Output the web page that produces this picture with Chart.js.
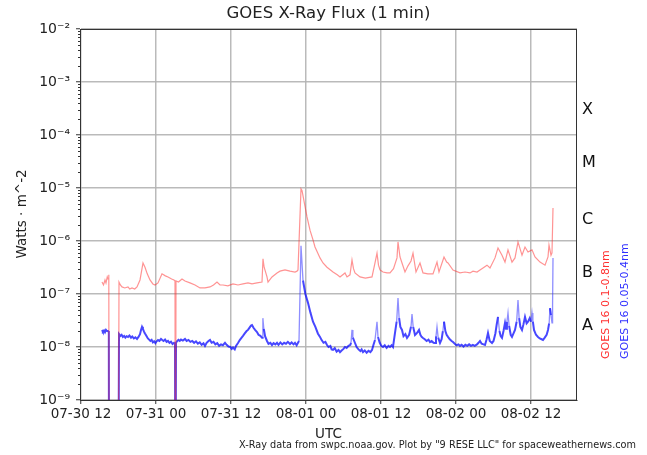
<!DOCTYPE html>
<html>
<head>
<meta charset="utf-8">
<script src="https://cdn.jsdelivr.net/npm/chart.js@4.4.1/dist/chart.umd.min.js"></script>
<style>
  html, body { margin: 0; padding: 0; background: #fff; }
</style>
</head>
<body>
<canvas id="xray" width="647" height="455"></canvas>
<script>
// GOES X-Ray Flux (1 min)
// x = hours since 07-30 00:00 UTC, y = W/m^2
// GAP marks missing samples (drawn as drops below the axis)
const GAP = 1e-12;

const redHours = [15.36,15.6,15.84,16.0,16.2,16.32,16.45,16.5,17.95,18.08,18.3,18.56,19.0,19.52,19.8,20.16,20.6,20.96,21.44,21.92,22.24,22.6,23.04,23.5,23.84,24.32,24.96,25.5,25.92,26.5,26.88,27.04,27.1,27.2,27.6,28.16,28.64,29.44,30.24,31.04,31.84,32.64,33.2,33.76,34.24,34.72,35.5,36.32,37.12,37.92,38.72,39.36,40.16,40.96,41.12,41.3,41.76,41.92,42.56,43.36,43.84,44.64,45.44,46.24,46.56,46.72,47.2,47.36,47.84,48.16,48.64,49.12,49.44,50.24,50.72,51.36,52.32,53.0,53.44,54.24,54.56,55.04,55.36,55.6,55.84,56.64,57.5,58.56,59.04,59.36,59.6,59.84,60.32,60.96,61.44,62.0,62.56,62.72,63.04,63.36,63.84,64.32,64.8,65.12,65.6,66.24,66.72,67.5,68.32,68.96,69.28,70.08,70.5,70.72,71.52,72.64,73.44,74.24,74.72,75.36,75.84,76.32,76.96,77.44,78.24,78.72,79.36,79.84,80.32,80.96,81.44,81.92,82.56,83.04,83.52,84.16,84.64,85.44,86.24,86.72,86.88,87.2,87.36,87.52];
const redFlux = [1.68e-7,1.48e-7,1.84e-7,1.62e-7,2.1e-7,1.92e-7,2.3e-7,GAP,GAP,1.68e-7,1.48e-7,1.36e-7,1.30e-7,1.36e-7,1.24e-7,1.30e-7,1.24e-7,1.36e-7,1.84e-7,3.85e-7,3.2e-7,2.4e-7,1.84e-7,1.55e-7,1.48e-7,1.62e-7,2.4e-7,2.2e-7,2.1e-7,1.92e-7,1.84e-7,1.76e-7,GAP,1.76e-7,1.68e-7,1.92e-7,1.76e-7,1.62e-7,1.48e-7,1.30e-7,1.30e-7,1.36e-7,1.48e-7,1.68e-7,1.48e-7,1.48e-7,1.42e-7,1.55e-7,1.48e-7,1.55e-7,1.62e-7,1.55e-7,1.62e-7,1.68e-7,4.6e-7,3.2e-7,2.1e-7,1.68e-7,2.1e-7,2.5e-7,2.7e-7,2.84e-7,2.7e-7,2.6e-7,2.7e-7,2.84e-7,9.6e-6,9.0e-6,4.5e-6,2.84e-6,1.6e-6,1.05e-6,7.7e-7,4.8e-7,3.85e-7,3.2e-7,2.6e-7,2.3e-7,2.1e-7,2.5e-7,2.1e-7,2.3e-7,4.4e-7,3.0e-7,2.5e-7,2.1e-7,2.0e-7,2.1e-7,3.85e-7,5.9e-7,3.5e-7,2.84e-7,2.6e-7,2.5e-7,2.5e-7,3.0e-7,4.8e-7,9.6e-7,5.0e-7,3.85e-7,2.6e-7,3.4e-7,4.2e-7,5.9e-7,2.6e-7,3.85e-7,2.5e-7,2.4e-7,2.4e-7,4.0e-7,2.6e-7,5.0e-7,4.0e-7,3.85e-7,2.84e-7,2.5e-7,2.6e-7,2.5e-7,2.7e-7,2.6e-7,2.84e-7,3.1e-7,3.5e-7,3.1e-7,4.8e-7,7.4e-7,5.4e-7,4.0e-7,6.8e-7,4.0e-7,4.8e-7,9.6e-7,5.4e-7,7.7e-7,6.2e-7,6.8e-7,5.0e-7,4.0e-7,3.5e-7,5.0e-7,8.4e-7,5.4e-7,6.0e-7,4.2e-6];

const blueHours = [
  15.36,15.5,15.68,15.84,16.0,16.16,16.32,16.45,16.5,17.95,
  18.08,18.3,18.5,18.7,18.9,19.1,19.3,19.52,19.75,20.0,
  20.2,20.45,20.7,20.96,21.2,21.44,21.6,21.76,21.9,22.08,
  22.24,22.5,22.7,22.9,23.1,23.3,23.5,23.7,23.9,24.1,
  24.32,24.55,24.8,25.0,25.2,25.45,25.7,25.92,26.15,26.4,
  26.65,26.88,27.04,27.1,27.2,27.4,27.6,27.8,28.0,28.3,
  28.64,28.9,29.2,29.5,29.8,30.1,30.4,30.7,31.0,31.3,
  31.6,31.84,32.1,32.4,32.64,32.9,33.2,33.5,33.8,34.1,
  34.4,34.7,35.04,35.3,35.6,35.9,36.1,36.32,36.6,36.8,
  37.12,37.4,37.7,37.92,38.2,38.5,38.72,39.0,39.2,39.36,
  39.6,39.85,40.16,40.4,40.7,40.96,41.05,41.1,41.25,41.45,
  41.76,42.0,42.3,42.56,42.8,43.1,43.36,43.6,43.9,44.2,
  44.5,44.8,45.1,45.44,45.7,46.0,46.24,46.5,46.72,46.88,
  47.2,47.52,47.9,48.32,48.7,49.12,49.5,49.9,50.24,50.5,
  50.8,51.1,51.36,51.6,51.9,52.1,52.32,52.6,52.9,53.2,
  53.44,53.7,54.0,54.24,54.5,54.8,55.1,55.2,55.36,55.5,
  55.84,56.1,56.4,56.7,56.9,57.12,57.4,57.7,58.0,58.3,
  58.56,58.8,59.04,59.2,59.36,59.52,59.8,60.05,60.32,60.6,
  60.9,61.2,61.44,61.7,61.92,62.24,62.5,62.72,62.9,63.1,
  63.36,63.6,63.9,64.16,64.5,64.8,64.96,65.15,65.44,65.7,
  66.08,66.3,66.5,66.72,67.0,67.3,67.6,67.84,68.1,68.4,
  68.64,68.8,68.96,69.15,69.44,69.7,69.9,70.08,70.3,70.5,
  70.72,71.0,71.3,71.52,71.8,72.1,72.4,72.64,72.9,73.2,
  73.5,73.8,74.1,74.4,74.7,75.0,75.36,75.6,75.84,76.1,
  76.4,76.64,76.9,77.12,77.4,77.76,78.0,78.3,78.5,78.72,
  78.95,79.15,79.36,79.6,79.84,80.0,80.15,80.32,80.5,80.75,
  80.96,81.2,81.44,81.7,81.92,82.1,82.3,82.56,82.8,83.04,
  83.3,83.52,83.8,84.0,84.16,84.3,84.48,84.8,85.12,85.4,
  85.7,85.92,86.2,86.5,86.72,86.9,87.04,87.2,87.36,87.45,
  87.52
];
const blueFlux = [
  2.1e-8,1.95e-8,2.05e-8,1.9e-8,2.1e-8,2.0e-8,2.0e-8,1.9e-8,GAP,GAP,
  1.76e-8,1.62e-8,1.7e-8,1.55e-8,1.62e-8,1.5e-8,1.6e-8,1.55e-8,1.65e-8,1.5e-8,
  1.58e-8,1.45e-8,1.52e-8,1.42e-8,1.55e-8,1.75e-8,2.1e-8,2.4e-8,2.2e-8,1.95e-8,
  1.8e-8,1.6e-8,1.45e-8,1.38e-8,1.3e-8,1.36e-8,1.22e-8,1.28e-8,1.18e-8,1.28e-8,
  1.35e-8,1.3e-8,1.42e-8,1.35e-8,1.3e-8,1.38e-8,1.25e-8,1.3e-8,1.2e-8,1.26e-8,
  1.14e-8,1.2e-8,1.14e-8,GAP,1.2e-8,1.3e-8,1.36e-8,1.3e-8,1.38e-8,1.32e-8,
  1.42e-8,1.3e-8,1.36e-8,1.25e-8,1.3e-8,1.2e-8,1.28e-8,1.16e-8,1.22e-8,1.1e-8,
  1.18e-8,1.05e-8,1.2e-8,1.3e-8,1.36e-8,1.2e-8,1.25e-8,1.12e-8,1.18e-8,1.05e-8,
  1.12e-8,1.08e-8,1.2e-8,1.1e-8,1.02e-8,1.0e-8,9.2e-9,9.8e-9,9.0e-9,1.05e-8,
  1.19e-8,1.35e-8,1.5e-8,1.62e-8,1.8e-8,2.0e-8,2.1e-8,2.35e-8,2.55e-8,2.6e-8,
  2.3e-8,2.1e-8,1.92e-8,1.7e-8,1.62e-8,1.5e-8,1.55e-8,3.5e-8,2.2e-8,1.6e-8,
  1.3e-8,1.15e-8,1.2e-8,1.09e-8,1.18e-8,1.12e-8,1.2e-8,1.1e-8,1.22e-8,1.12e-8,
  1.2e-8,1.15e-8,1.25e-8,1.14e-8,1.22e-8,1.12e-8,1.2e-8,1.08e-8,1.2e-8,1.3e-8,
  8.1e-7,1.8e-7,1.0e-7,6.8e-8,4.5e-8,3.0e-8,2.4e-8,1.8e-8,1.55e-8,1.35e-8,
  1.2e-8,1.25e-8,1.09e-8,1.0e-8,1.05e-8,9.0e-9,8.8e-9,9.5e-9,8.2e-9,8.8e-9,
  8.0e-9,8.6e-9,9.2e-9,1.0e-8,9.6e-9,1.05e-8,1.1e-8,1.2e-8,2.1e-8,1.5e-8,
  1.19e-8,1.0e-8,9.0e-9,8.4e-9,9.0e-9,8.0e-9,8.6e-9,7.8e-9,8.5e-9,8.0e-9,
  8.8e-9,1.1e-8,1.36e-8,2.0e-8,3.0e-8,1.55e-8,1.2e-8,1.05e-8,1.0e-8,1.08e-8,
  9.6e-9,1.05e-8,1.0e-8,1.08e-8,1.0e-8,1.84e-8,3.0e-8,8.4e-8,3.5e-8,2.4e-8,
  2.1e-8,1.6e-8,1.75e-8,1.48e-8,1.7e-8,2.4e-8,4.2e-8,2.4e-8,1.68e-8,1.8e-8,
  2.1e-8,1.7e-8,1.55e-8,1.48e-8,1.4e-8,1.3e-8,1.38e-8,1.24e-8,1.3e-8,1.2e-8,
  1.19e-8,1.6e-8,2.4e-8,1.5e-8,1.19e-8,1.4e-8,2.0e-8,3.0e-8,2.0e-8,1.7e-8,
  1.55e-8,1.4e-8,1.3e-8,1.24e-8,1.15e-8,1.08e-8,1.12e-8,1.05e-8,1.1e-8,1.02e-8,
  1.1e-8,1.05e-8,1.12e-8,1.05e-8,1.1e-8,1.05e-8,1.12e-8,1.2e-8,1.3e-8,1.15e-8,
  1.12e-8,1.09e-8,1.4e-8,1.84e-8,1.3e-8,1.19e-8,1.3e-8,1.8e-8,2.6e-8,3.7e-8,
  2.0e-8,1.6e-8,1.48e-8,2.0e-8,2.84e-8,2.2e-8,3.0e-8,4.4e-8,2.5e-8,1.7e-8,
  1.55e-8,1.8e-8,2.1e-8,3.0e-8,7.7e-8,3.5e-8,2.4e-8,2.1e-8,2.7e-8,3.7e-8,
  2.8e-8,3.0e-8,3.5e-8,3.0e-8,4.4e-8,3.0e-8,2.1e-8,1.7e-8,1.55e-8,1.45e-8,
  1.4e-8,1.36e-8,1.5e-8,1.7e-8,2.1e-8,2.8e-8,5.4e-8,4.0e-8,2.84e-8,6.0e-8,
  4.8e-7
];

const xTickHours = [12, 24, 36, 48, 60, 72, 84];
const xTickLabels = ['07-30 12','07-31 00','07-31 12','08-01 00','08-01 12','08-02 00','08-02 12'];
const yTickValues = [1e-9, 1e-8, 1e-7, 1e-6, 1e-5, 1e-4, 1e-3, 1e-2];
const yTickLabels = ['10\u207B\u2079','10\u207B\u2078','10\u207B\u2077','10\u207B\u2076','10\u207B\u2075','10\u207B\u2074','10\u207B\u00B3','10\u207B\u00B2'];
const flareClasses = ['X', 'M', 'C', 'B', 'A'];
const flareLevels = [3e-4, 3e-5, 2.5e-6, 2.5e-7, 2.5e-8];
const seriesNames = ['GOES 16 0.1-0.8nm', 'GOES 16 0.05-0.4nm'];

const FONT = "'DejaVu Sans', sans-serif";
const gridColor = 'rgba(178,178,178,0.9)';

function pts(hours, flux){
  return hours.map((h, i) => ({x: h, y: flux[i]}));
}

// steep flare rise/decay stretches look thinner and paler in the original
function steep(ctx){
  const a = ctx.p0.parsed.y, b = ctx.p1.parsed.y;
  if(a <= GAP || b <= GAP) return false;
  const r = Math.abs(Math.log10(b / a)) / Math.max(ctx.p1.parsed.x - ctx.p0.parsed.x, 0.01);
  return r > 0.9;
}

// extra bits matplotlib draws: frame, minor ticks, titles, class letters, side legend
const decorations = {
  id: 'decorations',
  afterDraw(chart){
    const c = chart.ctx;
    const a = chart.chartArea;
    const ys = chart.scales.y;
    c.save();

    // frame
    c.strokeStyle = '#333';
    c.lineWidth = 1;
    c.strokeRect(a.left + 0.5, a.top + 0.5, a.right - a.left - 1, a.bottom - a.top);

    // log minor ticks on the left
    c.beginPath();
    for(let n = -9; n < -2; n++){
      for(let k = 2; k <= 9; k++){
        const py = Math.round(ys.getPixelForValue(k * Math.pow(10, n))) + 0.5;
        c.moveTo(a.left, py);
        c.lineTo(a.left - 2, py);
      }
    }
    c.stroke();

    c.fillStyle = '#222';
    c.textAlign = 'center';
    c.textBaseline = 'middle';
    c.font = '16.5px ' + FONT;
    c.fillText('GOES X-Ray Flux (1 min)', (a.left + a.right) / 2, 14);

    c.font = '13.5px ' + FONT;
    c.fillText('UTC', (a.left + a.right) / 2, 434);

    c.save();
    c.translate(22, 214);
    c.rotate(-Math.PI / 2);
    c.fillText('Watts \u00B7 m^-2', 0, 0);
    c.restore();

    c.font = '10px ' + FONT;
    c.textAlign = 'left';
    c.fillText('X-Ray data from swpc.noaa.gov. Plot by "9 RESE LLC" for spaceweathernews.com', 239, 445, 397);

    // flare class letters
    c.font = '16px ' + FONT;
    c.fillStyle = '#111';
    flareClasses.forEach((lbl, i) => {
      c.fillText(lbl, a.right + 5, ys.getPixelForValue(flareLevels[i]));
    });

    // rotated series labels
    c.font = '11px ' + FONT;
    const cols = ['#ff3030', '#3030ff'];
    const xs = [606, 625];
    seriesNames.forEach((name, i) => {
      c.save();
      c.translate(xs[i], 359);
      c.rotate(-Math.PI / 2);
      c.fillStyle = cols[i];
      c.textAlign = 'left';
      c.fillText(name, 0, 0);
      c.restore();
    });

    c.restore();
  }
};

new Chart(document.getElementById('xray'), {
  type: 'line',
  data: {
    datasets: [
      {
        label: seriesNames[0],
        data: pts(redHours, redFlux),
        borderColor: 'rgba(255,40,40,0.5)',
        borderWidth: 1.2,
        pointRadius: 0,
        tension: 0
      },
      {
        label: seriesNames[1],
        data: pts(blueHours, blueFlux),
        borderColor: 'rgba(0,0,255,0.72)',
        borderWidth: 2,
        pointRadius: 0,
        tension: 0,
        segment: {
          borderColor: ctx => steep(ctx) ? 'rgba(50,50,255,0.55)' : undefined,
          borderWidth: ctx => steep(ctx) ? 1.3 : undefined
        }
      }
    ]
  },
  options: {
    responsive: false,
    animation: false,
    events: [],
    layout: { padding: { top: 29, right: 70, left: 0, bottom: 0 } },
    plugins: {
      legend: { display: false },
      title: { display: false },
      tooltip: { enabled: false }
    },
    scales: {
      x: {
        type: 'linear',
        min: 11.84,
        max: 91.36,
        afterBuildTicks: s => { s.ticks = xTickHours.map(v => ({value: v})); },
        afterFit: s => { s.height = 55; },
        ticks: {
          autoSkip: false,
          maxRotation: 0,
          padding: 2,
          color: '#222',
          font: { family: FONT, size: 13.5 },
          callback: v => xTickLabels[xTickHours.indexOf(v)] || ''
        },
        grid: { color: gridColor, lineWidth: 1.5, tickLength: 4, tickColor: '#333', tickWidth: 1 },
        border: { display: true, color: '#333', width: 1 }
      },
      y: {
        type: 'logarithmic',
        min: 1e-9,
        max: 1e-2,
        afterBuildTicks: s => { s.ticks = yTickValues.map(v => ({value: v, major: true})); },
        afterFit: s => { s.width = 80; },
        ticks: {
          autoSkip: false,
          padding: 6,
          color: '#222',
          font: { family: FONT, size: 14 },
          callback: (v) => {
            const i = yTickValues.findIndex(t => Math.abs(Math.log10(t) - Math.log10(v)) < 1e-6);
            return i >= 0 ? yTickLabels[i] : '';
          }
        },
        grid: { color: gridColor, lineWidth: 1.5, tickLength: 4, tickColor: '#333', tickWidth: 1 },
        border: { display: true, color: '#333', width: 1 }
      }
    }
  },
  plugins: [decorations]
});
</script>
</body>
</html>
